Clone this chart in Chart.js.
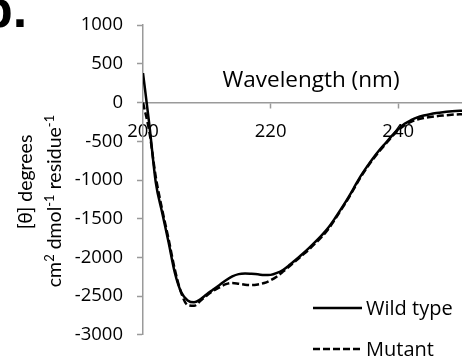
<!DOCTYPE html>
<html>
<head>
<meta charset="utf-8">
<script src="https://cdn.jsdelivr.net/npm/chart.js@4.4.1/dist/chart.umd.min.js"></script>
<style>
  html, body { margin: 0; padding: 0; background: #fff; }
  #wrap { width: 462px; height: 360px; position: relative; }
</style>
</head>
<body>
<div id="wrap"><canvas id="cdChart"></canvas></div>
<script>
// ==========================================
// DATA
// ==========================================
const wavelengths = [200, 201, 202, 203, 204, 205, 206, 207, 208, 209,
                     210, 211, 212, 213, 214, 215, 216, 217, 218, 219,
                     220, 221, 222, 223, 224, 225, 226, 227, 228, 229,
                     230, 231, 232, 233, 234, 235, 236, 237, 238, 239,
                     240, 241, 242, 243, 244, 245, 246, 247, 248, 249, 250];

const wildType = [380, -290, -1030, -1420, -1800, -2200, -2450, -2555, -2580, -2540,
                  -2475, -2415, -2355, -2295, -2245, -2215, -2208, -2212, -2218, -2228,
                  -2225, -2200, -2158, -2095, -2025, -1955, -1880, -1800, -1715, -1620,
                  -1505, -1380, -1250, -1110, -965, -840, -725, -620, -525, -430,
                  -345, -275, -228, -192, -168, -150, -136, -125, -116, -110, -106];

const mutant = [0, -380, -960, -1380, -1760, -2160, -2460, -2615, -2625, -2560,
                -2490, -2430, -2385, -2345, -2330, -2340, -2352, -2356, -2348, -2330,
                -2295, -2245, -2180, -2110, -2040, -1970, -1898, -1818, -1735, -1638,
                -1520, -1392, -1262, -1122, -978, -853, -738, -633, -538, -443,
                -358, -292, -248, -218, -200, -188, -177, -168, -160, -154, -150];

const seriesNames = ['Wild type', 'Mutant'];
const xTicks = [200, 220, 240];
const yTicks = [-3000, -2500, -2000, -1500, -1000, -500, 0, 500, 1000];

const FONT = '"Open Sans"';
const axisGray = '#9a9a9a';

// ==========================================
// EXTRA TEXT: panel letter, axis titles, legend
// ==========================================
const extrasPlugin = {
    id: 'extras',
    afterDraw(chart) {
        const ctx = chart.ctx;
        ctx.save();
        ctx.fillStyle = '#000';

        // panel letter (cut off at the top like the original)
        ctx.font = 'bold 52px "Liberation Sans"';
        ctx.textBaseline = 'alphabetic';
        ctx.textAlign = 'left';
        ctx.fillText('b.', -19, 27);

        // x axis title, above the axis line
        ctx.font = '22.5px ' + FONT;
        ctx.textAlign = 'center';
        ctx.fillText('Wavelength (nm)', 311, 87);

        // y axis title, two rotated lines with superscripts
        drawRotated(ctx, 32, 182, [['[θ] degrees', false]]);
        drawRotated(ctx, 61, 201, [['cm', false], ['2', true], [' dmol', false], ['-1', true],
                                   [' residue', false], ['-1', true]]);

        // legend, inside the plot at bottom right
        const rows = [308, 349];
        chart.data.datasets.forEach((ds, i) => {
            const y = rows[i];
            ctx.strokeStyle = ds.borderColor;
            ctx.lineWidth = ds.borderWidth;
            ctx.setLineDash(ds.borderDash || []);
            ctx.beginPath();
            ctx.moveTo(313, y);
            ctx.lineTo(362, y);
            ctx.stroke();
            ctx.setLineDash([]);
            ctx.font = '20px ' + FONT;
            ctx.textAlign = 'left';
            ctx.textBaseline = 'middle';
            ctx.fillText(ds.label, 366, y + 1);
        });
        ctx.restore();
    }
};

function drawRotated(ctx, xBase, yCenter, parts) {
    const big = '19.5px Lato', small = '13px Lato';
    let total = 0;
    parts.forEach(p => { ctx.font = p[1] ? small : big; total += ctx.measureText(p[0]).width; });
    ctx.save();
    ctx.translate(xBase, yCenter);
    ctx.rotate(-Math.PI / 2);
    ctx.textAlign = 'left';
    ctx.textBaseline = 'alphabetic';
    let x = -total / 2;
    parts.forEach(p => {
        ctx.font = p[1] ? small : big;
        ctx.fillText(p[0], x, p[1] ? -7.5 : 0);
        x += ctx.measureText(p[0]).width;
    });
    ctx.restore();
}

// ==========================================
// CHART
// ==========================================
const ctx = document.getElementById('cdChart').getContext('2d');
const toPoints = vals => wavelengths.map((w, i) => ({ x: w, y: vals[i] }));

new Chart(ctx, {
    type: 'line',
    data: {
        datasets: [
            {
                label: seriesNames[0],
                data: toPoints(wildType),
                borderColor: '#000',
                borderWidth: 2.5,
                pointRadius: 0,
                cubicInterpolationMode: 'monotone',
                fill: false
            },
            {
                label: seriesNames[1],
                data: toPoints(mutant),
                borderColor: '#000',
                borderWidth: 2.5,
                borderDash: [7, 3],
                pointRadius: 0,
                cubicInterpolationMode: 'monotone',
                fill: false
            }
        ]
    },
    options: {
        responsive: true,
        maintainAspectRatio: false,
        animation: false,
        devicePixelRatio: 1,
        layout: { padding: { top: 19, right: 0, bottom: 10, left: 0 } },
        plugins: {
            legend: { display: false },
            tooltip: { enabled: false }
        },
        scales: {
            x: {
                type: 'linear',
                position: { y: 0 },
                min: 200,
                max: 250,
                afterBuildTicks: s => { s.ticks = xTicks.map(v => ({ value: v })); },
                grid: { drawOnChartArea: false, tickLength: 5, tickColor: axisGray, tickWidth: 1.5 },
                border: { color: axisGray, width: 1.5 },
                ticks: { color: '#000', font: { family: 'Open Sans', size: 18.5 }, padding: 13,
                         maxRotation: 0, callback: v => String(v) }
            },
            y: {
                min: -3000,
                max: 1000,
                afterBuildTicks: s => { s.ticks = yTicks.map(v => ({ value: v })); },
                afterFit: s => { s.width = 143; },
                grid: { drawOnChartArea: false, tickLength: 6, tickColor: axisGray, tickWidth: 1.5 },
                border: { color: axisGray, width: 1.5 },
                ticks: { color: '#000', font: { family: 'Open Sans', size: 18.5 }, padding: 14,
                         callback: v => String(v) }
            }
        }
    },
    plugins: [extrasPlugin]
});
</script>
</body>
</html>
